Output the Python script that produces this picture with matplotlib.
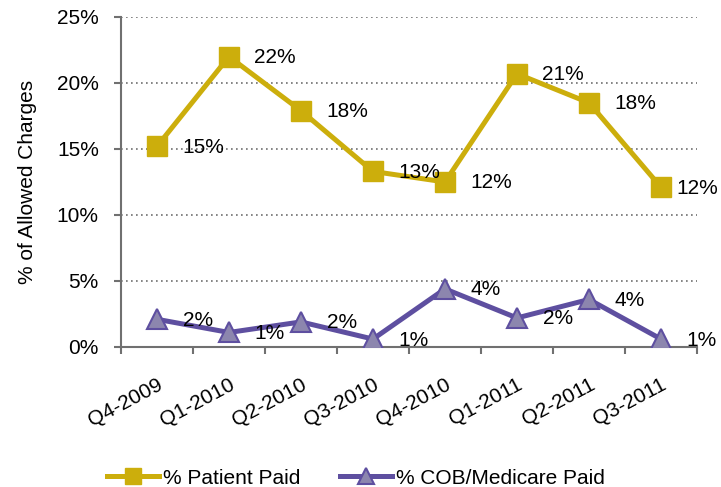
import matplotlib
matplotlib.use('Agg')
import matplotlib.pyplot as plt

quarters = ['Q4-2009', 'Q1-2010', 'Q2-2010', 'Q3-2010', 'Q4-2010', 'Q1-2011', 'Q2-2011', 'Q3-2011']
patient_paid = [15.2, 22.0, 17.9, 13.3, 12.5, 20.7, 18.5, 12.1]
cob_paid = [2.1, 1.1, 1.9, 0.6, 4.4, 2.2, 3.6, 0.6]
patient_labels = ['15%', '22%', '18%', '13%', '12%', '21%', '18%', '12%']
cob_labels = ['2%', '1%', '2%', '1%', '4%', '2%', '4%', '1%']

plt.rcParams['font.family'] = ['Liberation Sans', 'DejaVu Sans']

gold = '#CCAE0C'
purple = '#5E4FA0'
grey = '#707070'

fig = plt.figure(figsize=(7.21, 4.87), dpi=100)
ax = fig.add_axes([0.1678, 0.2875, 0.7989, 0.6776])

x = list(range(len(quarters)))
ax.plot(x, patient_paid, color=gold, lw=3.6, marker='s', markersize=14,
        markerfacecolor=gold, markeredgecolor=gold, label='% Patient Paid', zorder=3)
ax.plot(x, cob_paid, color=purple, lw=3.6, marker='^', markersize=15,
        markerfacecolor='#8C86AE', markeredgecolor=purple, markeredgewidth=1.5,
        label='% COB/Medicare Paid', zorder=3)

for i, (xi, v, t) in enumerate(zip(x, patient_paid, patient_labels)):
    dx = 36 if i == len(x) - 1 else 46
    ax.annotate(t, (xi, v), xytext=(dx, -1), textcoords='offset pixels',
                ha='center', va='center', fontsize=15, zorder=4)
for xi, v, t in zip(x, cob_paid, cob_labels):
    ax.annotate(t, (xi, v), xytext=(41, -1), textcoords='offset pixels',
                ha='center', va='center', fontsize=15, zorder=4)

ax.set_xlim(-0.5, len(quarters) - 0.5)
ax.set_ylim(0, 25)
ax.set_yticks([0, 5, 10, 15, 20, 25])
ax.set_yticklabels(['0%', '5%', '10%', '15%', '20%', '25%'], fontsize=15)
ax.set_xticks([i - 0.5 for i in range(len(quarters) + 1)], minor=False)
ax.set_xticklabels([])
ax.set_xticks(x, minor=True)
ax.set_xticklabels(quarters, minor=True, rotation=28, ha='right',
                   rotation_mode='anchor', fontsize=15)
ax.tick_params(axis='x', which='minor', length=0, pad=20)
ax.tick_params(axis='x', which='major', length=5, color=grey, width=1.5, direction='out')
ax.tick_params(axis='y', length=5, color=grey, width=1.5, direction='out', pad=11)

ax.yaxis.grid(True, linestyle=(0, (1, 2)), color=grey, linewidth=1.2)
ax.set_axisbelow(True)
for s in ['top', 'right']:
    ax.spines[s].set_visible(False)
for s in ['left', 'bottom']:
    ax.spines[s].set_color(grey)
    ax.spines[s].set_linewidth(1.5)

ax.set_ylabel('% of Allowed Charges', fontsize=15, labelpad=14)

fig.legend(loc='center', bbox_to_anchor=(0.494, 0.018), ncol=2, frameon=False,
           fontsize=15, handlelength=2.5, columnspacing=1.9, handletextpad=0.2,
           markerscale=0.8)

fig.savefig('out.png', dpi=100)
